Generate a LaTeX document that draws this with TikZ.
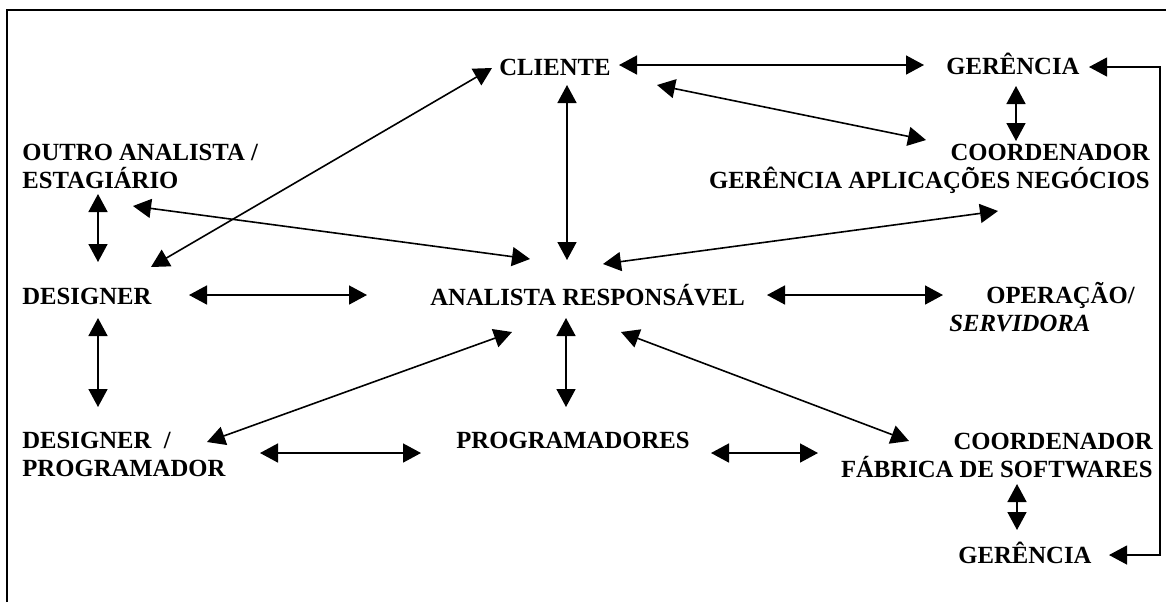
\documentclass[tikz,border=0pt]{standalone}
\usepackage{fontspec}
\setmainfont{Liberation Serif}
\usepackage{tikz}
\usetikzlibrary{calc,arrows.meta}

% two stacked lines, baseline on the first one
\newcommand{\linesl}[2]{\vtop{\baselineskip=14pt\lineskiplimit=-20pt\halign{##\hfil\cr#1\cr#2\cr}}}
\newcommand{\linesr}[2]{\vtop{\baselineskip=14pt\lineskiplimit=-20pt\halign{\hfil##\cr#1\cr#2\cr}}}

\begin{document}
\begin{tikzpicture}[x=0.5pt,y=-0.5pt,
    lbl/.style={inner sep=0pt, font=\fontsize{12.35}{14}\selectfont\bfseries},
    dbl/.style={line width=0.8pt, {Triangle[length=9pt,width=9.5pt]}-{Triangle[length=9pt,width=9.5pt]}},
    ret/.style={dbl, line width=0.6pt}]
            \useasboundingbox (0,0) rectangle (1166,602);
            \draw[line width=1pt] (7,602) -- (7,10) -- (1166,10);

            % roles
            \node[lbl, anchor=base west] (cliente) at (499,75) {CLIENTE};
            \node[lbl, anchor=base west] (gerTop) at (946,74) {GERÊNCIA};
            \node[lbl, anchor=base west] (outro) at (22,160) {\linesl{OUTRO ANALISTA /}{ESTAGIÁRIO}};
            \node[lbl, anchor=base east] (coordGan) at (1150,160) {\linesr{COORDENADOR}{GERÊNCIA APLICAÇÕES NEGÓCIOS}};
            \node[lbl, anchor=base west] (designer) at (22,304) {DESIGNER};
            \node[lbl, anchor=base west] (analista) at (430,305) {ANALISTA RESPONSÁVEL};
            \node[lbl, anchor=base west] (operacao) at (949,303) {\linesl{\hspace*{18.5pt}OPERAÇÃO/}{\textit{SERVIDORA}}};
            \node[lbl, anchor=base west] (desprog) at (22,448) {\linesl{DESIGNER\ \ /}{PROGRAMADOR}};
            \node[lbl, anchor=base west] (programadores) at (456,448) {PROGRAMADORES};
            \node[lbl, anchor=base east] (coordFab) at (1153,449) {\linesr{COORDENADOR}{FÁBRICA DE SOFTWARES}};
            \node[lbl, anchor=base west] (gerBot) at (958,563) {GERÊNCIA};

            % links
            \draw[dbl] ($(cliente.base west)+(120,-10)$) -- ($(gerTop.base west)+(-22,-9)$);
            \draw[dbl] ($(cliente.base west)+(158,10)$) -- ($(coordGan.base east)+(-224,-20)$);
            \draw[dbl] ($(cliente.base west)+(68,10)$) -- ($(analista.base west)+(137,-45)$);
            \draw[dbl] ($(designer.base west)+(129,-37)$) -- ($(cliente.base west)+(-7,-7)$);
            \draw[dbl] ($(outro.base west)+(111,46)$) -- ($(analista.base west)+(100,-46)$);
            \draw[dbl] ($(outro.base west)+(76,34)$) -- ($(designer.base west)+(76,-42)$);
            \draw[dbl] ($(designer.base west)+(167,-9)$) -- ($(analista.base west)+(-63,-10)$);
            \draw[dbl] ($(coordGan.base east)+(-152,51)$) -- ($(analista.base west)+(173,-41)$);
            \draw[dbl] ($(analista.base west)+(337,-10)$) -- ($(operacao.base west)+(-6,-8)$);
            \draw[dbl] ($(designer.base west)+(76,14)$) -- ($(desprog.base west)+(76,-41)$);
            \draw[dbl] ($(analista.base west)+(136,13)$) -- ($(programadores.base west)+(110,-41)$);
            \draw[dbl] ($(desprog.base west)+(185,-6)$) -- ($(analista.base west)+(82,27)$);
            \draw[dbl] ($(analista.base west)+(191,27)$) -- ($(coordFab.base east)+(-244,-8)$);
            \draw[dbl] ($(desprog.base west)+(238,5)$) -- ($(programadores.base west)+(-35,5)$);
            \draw[dbl] ($(programadores.base west)+(255,5)$) -- ($(coordFab.base east)+(-335,4)$);
            \draw[dbl] ($(gerTop.base west)+(70,12)$) -- ($(coordGan.base east)+(-134,-19)$);
            \draw[dbl] ($(coordFab.base east)+(-136,35)$) -- ($(gerBot.base west)+(59,-33)$);
            \draw[ret] ($(gerBot.base west)+(151,-8)$) -- ++(51,0) |- ($(gerTop.base west)+(143,-7)$);
        \end{tikzpicture}
\end{document}
